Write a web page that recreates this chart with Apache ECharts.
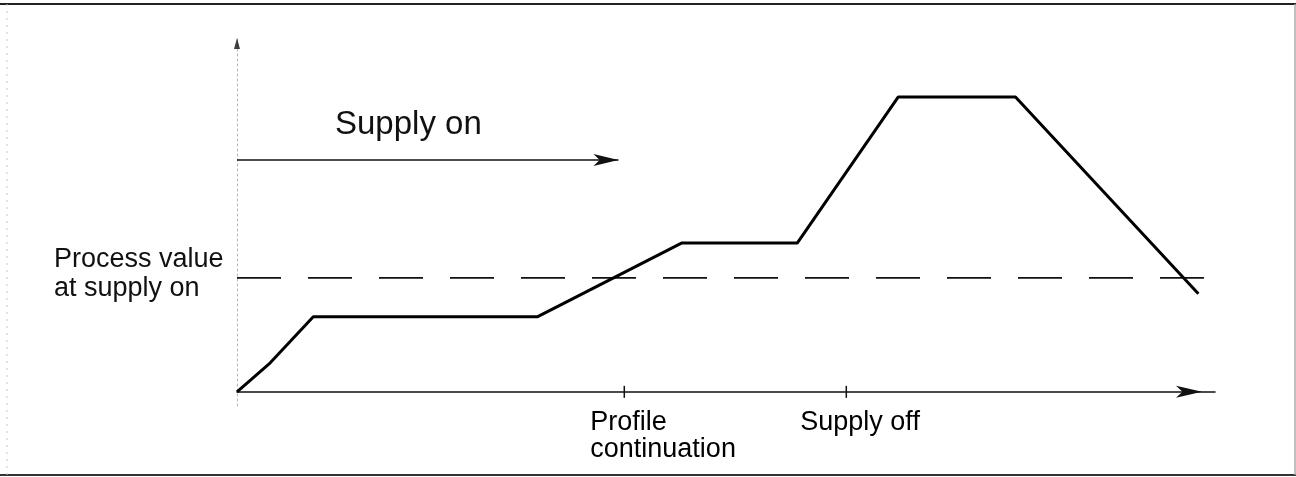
<!DOCTYPE html>
<html>
<head>
<meta charset="utf-8">
<script src="https://cdn.jsdelivr.net/npm/echarts@6/dist/echarts.min.js"></script>
<style>
  html, body { margin: 0; padding: 0; background: #fff; }
  #chart { width: 1296px; height: 477px; }
</style>
</head>
<body>
<div id="chart"></div>
<script>
// Process value profile: time (x) against value (y), arbitrary units
const profileTime  = [0, 3.4, 7.8, 30.7, 45.5, 57.3, 67.6, 79.6, 98.3];
const profileValue = [0, 8.2, 21.2, 21.2, 42.1, 42.1, 83.3, 83.3, 27.7];

// Level of the process value at the moment the supply came on
const supplyOnLevel = 32.2;
const supplyOnLevelSpan = [0, 99.8];

// Events marked on the time axis
const eventNames = ['Profile\ncontinuation', 'Supply off'];
const eventTimes = [39.6, 62.3];

// "Supply on" interval arrow
const supplyOnSpan = [0, 39.0];
const supplyOnArrowLevel = 65.5;

// Axis ranges
const timeRange = [0, 100];
const valueRange = [-4, 100];

const FONT = "'Liberation Sans', Arial, Helvetica, sans-serif";
const INK = '#111';

const chart = echarts.init(document.getElementById('chart'), null, { renderer: 'canvas' });

const eventLabelOffsets = [[-34, 6], [-46, 6]];

chart.setOption({
  animation: false,
  backgroundColor: '#fff',
  grid: { left: 237, right: 81, top: 38, bottom: 71, outerBoundsMode: 'none' },
  xAxis: {
    type: 'value',
    min: timeRange[0],
    max: timeRange[1],
    axisLine: {
      show: true,
      onZero: true,
      symbol: ['none', 'arrow'],
      symbolSize: [9, 26],
      symbolOffset: [0, -13],
      lineStyle: { color: INK, width: 1.5 }
    },
    axisTick: { show: false },
    axisLabel: { show: false },
    splitLine: { show: false }
  },
  yAxis: {
    type: 'value',
    min: valueRange[0],
    max: valueRange[1],
    axisLine: {
      show: true,
      onZero: true,
      lineStyle: { color: '#b5b5b5', width: 1, type: [2, 3] }
    },
    axisTick: { show: false },
    axisLabel: { show: false },
    splitLine: { show: false }
  },
  graphic: [
    // frame around the figure
    { type: 'line', shape: { x1: 0, y1: 4, x2: 1296, y2: 4 }, style: { stroke: '#222', lineWidth: 2 } },
    { type: 'line', shape: { x1: 0, y1: 475, x2: 1296, y2: 475 }, style: { stroke: '#333', lineWidth: 2 } },
    { type: 'line', shape: { x1: 1295, y1: 4, x2: 1295, y2: 475 }, style: { stroke: '#aaa', lineWidth: 1.5 } },
    { type: 'line', shape: { x1: 7, y1: 4, x2: 7, y2: 475 }, style: { stroke: '#c8c8c8', lineWidth: 1, lineDash: [2, 5] } },
    // annotations
    {
      type: 'text', x: 335, y: 108,
      style: { text: 'Supply on', font: '33px ' + FONT, fill: INK, lineHeight: 33 }
    },
    {
      type: 'text', x: 54, y: 245,
      style: { text: 'Process value\nat supply on', font: '27px ' + FONT, fill: INK, lineHeight: 29 }
    }
  ],
  series: [
    {
      name: 'Process value',
      type: 'line',
      data: profileTime.map((t, i) => [t, profileValue[i]]),
      symbol: 'none',
      lineStyle: { color: '#000', width: 3 },
      z: 5
    },
    {
      name: 'Process value at supply on',
      type: 'line',
      data: supplyOnLevelSpan.map(t => [t, supplyOnLevel]),
      symbol: 'none',
      clip: false,
      lineStyle: { color: INK, width: 1.8, type: [44, 27] },
      z: 4
    },
    {
      name: 'Supply on',
      type: 'line',
      data: [],
      markLine: {
        silent: true,
        symbol: ['none', 'arrow'],
        symbolSize: [9, 25],
        label: { show: false },
        lineStyle: { color: INK, width: 1.5, type: 'solid' },
        data: [[
          { coord: [supplyOnSpan[0], supplyOnArrowLevel] },
          { coord: [supplyOnSpan[1], supplyOnArrowLevel] }
        ]]
      }
    },
    {
      name: 'Events',
      type: 'scatter',
      symbol: 'rect',
      symbolSize: [1.5, 12],
      clip: false,
      itemStyle: { color: INK, opacity: 1 },
      data: eventTimes.map((t, i) => ({
        name: eventNames[i],
        value: [t, 0],
        label: { offset: eventLabelOffsets[i] }
      })),
      label: {
        show: true,
        position: 'bottom',
        align: 'left',
        verticalAlign: 'top',
        formatter: p => p.name,
        color: '#000',
        opacity: 1,
        textBorderWidth: 0,
        fontFamily: FONT,
        fontSize: 27,
        lineHeight: 27
      },
      emphasis: { disabled: true },
      z: 6
    },
    {
      name: 'Value axis arrow',
      type: 'scatter',
      symbol: 'triangle',
      symbolSize: [6, 11],
      symbolOffset: [0, 5.5],
      clip: false,
      itemStyle: { color: INK },
      emphasis: { disabled: true },
      data: [[timeRange[0], valueRange[1]]],
      z: 6
    }
  ]
});
</script>
</body>
</html>
